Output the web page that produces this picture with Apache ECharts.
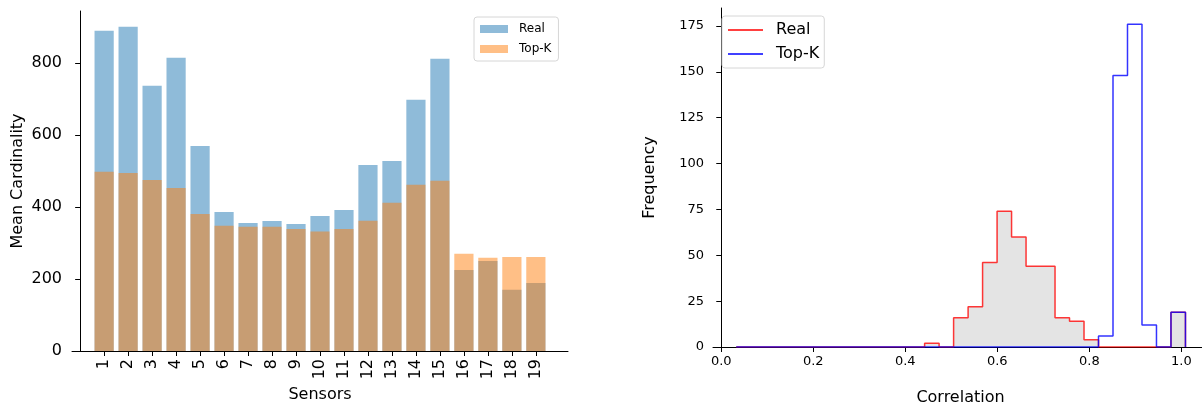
<!DOCTYPE html>
<html>
<head>
<meta charset="utf-8">
<script src="https://cdn.jsdelivr.net/npm/echarts@6/dist/echarts.min.js"></script>
<style>
html,body{margin:0;padding:0;background:#fff;}
#chart{width:1202px;height:409px;}
</style>
</head>
<body>
<div id="chart"></div>
<script>
// ---- data ----
const sensors = ['1','2','3','4','5','6','7','8','9','10','11','12','13','14','15','16','17','18','19'];
const realCard = [890, 901, 737, 815, 570, 386, 356, 361, 353, 375, 392, 517, 528, 698, 812, 225, 250, 170, 189];
const topkCard = [498, 495, 475, 453, 381, 348, 345, 345, 339, 332, 339, 362, 412, 462, 473, 270, 259, 261, 261];
const cardTicks = [0, 200, 400, 600, 800];

const binEdges = [0.0325, 0.0640, 0.0955, 0.1270, 0.1585, 0.1900, 0.2215, 0.2530, 0.2845, 0.3160,
  0.3475, 0.3790, 0.4105, 0.4420, 0.4735, 0.5050, 0.5365, 0.5680, 0.5995, 0.6310,
  0.6625, 0.6940, 0.7255, 0.7570, 0.7885, 0.8200, 0.8515, 0.8830, 0.9145, 0.9460,
  0.9775, 1.0090];
const realFreq = [0,0,0,0,0,0,0,0,0,0, 0,0,0,2,0,16,22,46,74,60, 44,44,16,14,4,0,0,0,0,0, 19];
const topkFreq = [0,0,0,0,0,0,0,0,0,0, 0,0,0,0,0,0,0,0,0,0, 0,0,0,0,0,6,148,176,12,0, 19];
const freqTicks = [0, 25, 50, 75, 100, 125, 150, 175];
const corrTicks = [0.0, 0.2, 0.4, 0.6, 0.8, 1.0];

// ---- helpers ----
function barData(vals) { return vals.map((v, i) => [Number(sensors[i]), v]); }
function stepData(edges, counts) {
  const pts = [[edges[0], 0]];
  for (let i = 0; i < counts.length; i++) pts.push([edges[i], counts[i]]);
  pts.push([edges[edges.length - 1], counts[counts.length - 1]]);
  pts.push([edges[edges.length - 1], 0]);
  return pts;
}

const FONT = 'DejaVu Sans';
const axisLine = { show: true, lineStyle: { color: '#000', width: 1 } };
const axisTick = (vals) => ({ show: true, length: 5, lineStyle: { color: '#000', width: 1 }, customValues: vals });

const chart = echarts.init(document.getElementById('chart'), null, { renderer: 'canvas' });
chart.setOption({
  animation: false,
  textStyle: { fontFamily: FONT },
  grid: [
    { left: 72, top: 11, width: 496, height: 340, outerBoundsMode: 'none', containLabel: false },
    { left: 713, top: 8, width: 495, height: 339, outerBoundsMode: 'none', containLabel: false }
  ],
  legend: [
    {
      orient: 'vertical', left: 474, top: 17,
      data: [{ name: 'Real', icon: 'rect' }, { name: 'Top-K', icon: 'rect' }],
      itemWidth: 28, itemHeight: 8, itemGap: 8,
      padding: [6, 7, 6, 6],
      backgroundColor: '#fff', borderColor: '#d6d6d6', borderWidth: 1, borderRadius: 3,
      textStyle: { fontFamily: FONT, fontSize: 12, color: '#000', padding: [0, 0, 0, 6] }
    },
    {
      orient: 'vertical', left: 722, top: 16,
      data: [{ name: 'Real ', icon: 'rect' }, { name: 'Top-K ', icon: 'rect' }],
      itemWidth: 35, itemHeight: 1.5, itemGap: 8,
      padding: [6, 5, 6, 6],
      backgroundColor: '#fff', borderColor: '#d6d6d6', borderWidth: 1, borderRadius: 3,
      formatter: (n) => n.trim(),
      textStyle: { fontFamily: FONT, fontSize: 16, color: '#000', padding: [0, 0, 0, 8] }
    }
  ],
  xAxis: [
    {
      gridIndex: 0, type: 'value', min: -0.34, max: 20.34,
      name: 'Sensors', nameLocation: 'middle', nameGap: 35,
      nameTextStyle: { fontFamily: FONT, fontSize: 16, color: '#000' },
      axisLine: axisLine, axisTick: axisTick(sensors.map(Number)),
      splitLine: { show: false },
      axisLabel: { customValues: sensors.map(Number), rotate: 90, margin: 8, fontFamily: FONT, fontSize: 16, color: '#000', formatter: (v) => String(v) }
    },
    {
      gridIndex: 1, type: 'value', min: -0.018, max: 1.058,
      name: 'Correlation', nameLocation: 'middle', nameGap: 43,
      nameTextStyle: { fontFamily: FONT, fontSize: 16, color: '#000' },
      axisLine: axisLine, axisTick: axisTick(corrTicks),
      splitLine: { show: false },
      axisLabel: { customValues: corrTicks, margin: 8, fontFamily: FONT, fontSize: 13, color: '#000', formatter: (v) => v.toFixed(1) }
    }
  ],
  yAxis: [
    {
      gridIndex: 0, type: 'value', min: 0, max: 945,
      name: 'Mean Cardinality', nameLocation: 'middle', nameGap: 46,
      nameTextStyle: { fontFamily: FONT, fontSize: 16, color: '#000' },
      axisLine: axisLine, axisTick: axisTick(cardTicks),
      splitLine: { show: false },
      axisLabel: { customValues: cardTicks, margin: 10, fontFamily: FONT, fontSize: 16, color: '#000' }
    },
    {
      gridIndex: 1, type: 'value', min: 0, max: 184.8,
      name: 'Frequency', nameLocation: 'middle', nameGap: 55,
      nameTextStyle: { fontFamily: FONT, fontSize: 16, color: '#000' },
      axisLine: axisLine, axisTick: axisTick(freqTicks),
      splitLine: { show: false },
      axisLabel: { customValues: freqTicks, margin: 9, fontFamily: FONT, fontSize: 13, color: '#000' }
    }
  ],
  series: [
    {
      name: 'Real', type: 'bar', xAxisIndex: 0, yAxisIndex: 0,
      data: barData(realCard), barWidth: 19.2, barGap: '-100%',
      itemStyle: { color: 'rgba(31,119,180,0.5)' }
    },
    {
      name: 'Top-K', type: 'bar', xAxisIndex: 0, yAxisIndex: 0,
      data: barData(topkCard), barWidth: 19.2, barGap: '-100%',
      itemStyle: { color: 'rgba(255,127,14,0.5)' }
    },
    {
      name: 'Real ', type: 'line', xAxisIndex: 1, yAxisIndex: 1, step: 'end',
      data: stepData(binEdges, realFreq), showSymbol: false, symbol: 'none',
      lineStyle: { color: 'rgba(255,0,0,0.78)', width: 1.5 },
      itemStyle: { color: 'red' },
      areaStyle: { color: '#e4e4e4', opacity: 1 }
    },
    {
      name: 'Top-K ', type: 'line', xAxisIndex: 1, yAxisIndex: 1, step: 'end',
      data: stepData(binEdges, topkFreq), showSymbol: false, symbol: 'none',
      lineStyle: { color: 'rgba(0,0,255,0.8)', width: 1.5 },
      itemStyle: { color: 'blue' }
    }
  ]
});
</script>
</body>
</html>
